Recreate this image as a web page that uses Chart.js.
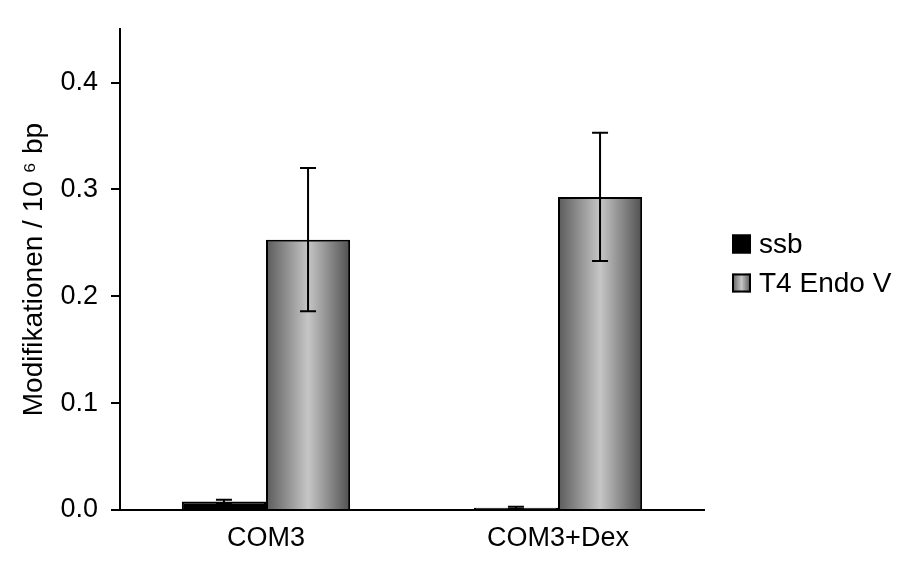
<!DOCTYPE html>
<html>
<head>
<meta charset="utf-8">
<script src="https://cdn.jsdelivr.net/npm/chart.js@4"></script>
<style>
  html, body { margin: 0; padding: 0; background: #fff; }
  #wrap { width: 899px; height: 564px; }
</style>
</head>
<body>
<div id="wrap"><canvas id="chart" width="899" height="564"></canvas></div>
<script>
const categories = ['COM3', 'COM3+Dex'];
const seriesNames = ['ssb', 'T4 Endo V'];
const ssbValues = [0.008, 0.002];
const ssbErrors = [0.0015, 0.001];
const t4Values = [0.253, 0.293];
const t4Errors = [0.067, 0.06];
const yTicks = [0, 0.1, 0.2, 0.3, 0.4];

const FONT = 'Liberation Sans, Arial, sans-serif';
const FONT_SIZE = 27;

function cylinder(ctx, left, right) {
  const g = ctx.createLinearGradient(left, 0, right, 0);
  g.addColorStop(0, '#5a5a5a');
  g.addColorStop(0.5, '#c6c6c6');
  g.addColorStop(1, '#505050');
  return g;
}

// gradient fill for the grey bars, set once the bars know their x
// (backgroundColor is scriptable below so each bar gets its own options object)
const gradientBars = {
  id: 'gradientBars',
  beforeDatasetsDraw(chart) {
    const meta = chart.getDatasetMeta(1);
    meta.data.forEach((bar) => {
      const half = bar.width / 2;
      bar.options.backgroundColor = cylinder(chart.ctx, bar.x - half, bar.x + half);
    });
  }
};

// error bars with caps
const errorBars = {
  id: 'errorBars',
  afterDatasetsDraw(chart) {
    const ctx = chart.ctx;
    const y = chart.scales.y;
    const sets = [[ssbValues, ssbErrors], [t4Values, t4Errors]];
    ctx.save();
    ctx.strokeStyle = '#000';
    ctx.lineWidth = 2;
    sets.forEach(([vals, errs], di) => {
      chart.getDatasetMeta(di).data.forEach((bar, i) => {
        const top = y.getPixelForValue(vals[i] + errs[i]);
        const bot = y.getPixelForValue(Math.max(vals[i] - errs[i], 0));
        ctx.beginPath();
        ctx.moveTo(bar.x, top);
        ctx.lineTo(bar.x, bot);
        ctx.moveTo(bar.x - 8, top);
        ctx.lineTo(bar.x + 8, top);
        ctx.moveTo(bar.x - 8, bot);
        ctx.lineTo(bar.x + 8, bot);
        ctx.stroke();
      });
    });
    ctx.restore();
  }
};

// legend on the right, like the original
const sideLegend = {
  id: 'sideLegend',
  afterDraw(chart) {
    const ctx = chart.ctx;
    const x = 732, size = 19;
    const rows = [244, 283];
    ctx.save();
    ctx.font = '28px ' + FONT;
    ctx.textBaseline = 'middle';
    rows.forEach((cy, i) => {
      ctx.fillStyle = i === 0 ? '#000' : cylinder(ctx, x, x + size);
      ctx.fillRect(x, cy - size / 2, size, size);
      ctx.strokeStyle = '#000';
      ctx.lineWidth = 2;
      ctx.strokeRect(x + 1, cy - size / 2 + 1, size - 2, size - 2);
      ctx.fillStyle = '#000';
      ctx.fillText(seriesNames[i], x + 27, cy + 1);
    });
    ctx.restore();
  }
};

new Chart(document.getElementById('chart'), {
  type: 'bar',
  data: {
    labels: categories,
    datasets: [
      {
        label: seriesNames[0],
        data: ssbValues,
        backgroundColor: '#000',
        borderColor: '#000',
        borderWidth: 2,
        categoryPercentage: 0.576,
        barPercentage: 1.0
      },
      {
        label: seriesNames[1],
        data: t4Values,
        backgroundColor: () => '#999',
        borderColor: '#000',
        borderWidth: 2,
        categoryPercentage: 0.576,
        barPercentage: 1.0
      }
    ]
  },
  options: {
    responsive: false,
    animation: false,
    layout: { padding: { top: 13, right: 195, left: 0, bottom: 0 } },
    plugins: {
      legend: { display: false },
      tooltip: { enabled: false }
    },
    scales: {
      x: {
        grid: { display: false, drawTicks: false },
        border: { display: true, color: '#000', width: 2 },
        ticks: { color: '#000', font: { family: FONT, size: FONT_SIZE }, padding: 12 },
        afterFit: (scale) => { scale.height = 54; }
      },
      y: {
        min: 0,
        max: 0.45,
        grid: { display: true, drawOnChartArea: false, drawTicks: true, tickLength: 9, color: '#000', lineWidth: 2 },
        border: { display: true, color: '#000', width: 2 },
        afterBuildTicks: (scale) => { scale.ticks = yTicks.map((v) => ({ value: v })); },
        ticks: {
          color: '#000',
          font: { family: FONT, size: FONT_SIZE },
          padding: 13,
          callback: (v) => Number(v).toFixed(1)
        },
        title: {
          display: true,
          text: 'Modifikationen / 10 \u2076 bp',
          color: '#000',
          font: { family: FONT, size: 28 },
          padding: { top: 17, bottom: 0 }
        },
        afterFit: (scale) => { scale.width = 120; }
      }
    }
  },
  plugins: [gradientBars, errorBars, sideLegend]
});
</script>
</body>
</html>
